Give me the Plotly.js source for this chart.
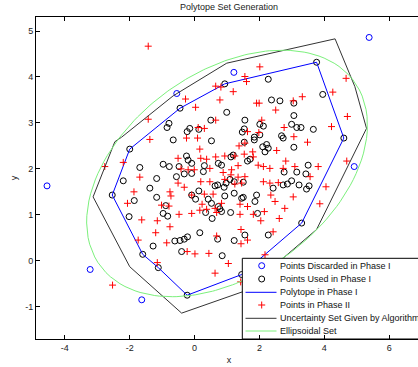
<!DOCTYPE html>
<html><head><meta charset="utf-8">
<script src="https://cdn.plot.ly/plotly-3.0.1.min.js"></script>
<style>html,body{margin:0;padding:0;overflow:hidden;background:#fff;}#chart{width:430px;height:367px;}</style>
</head><body><div id="chart"></div>
<script>
// ---- data ----
const discardedX = [5.38, -4.55, 1.21, -0.55, 4.92, -3.22, -1.63];
const discardedY = [4.86, 1.63, 4.10, 3.64, 2.05, -0.19, -0.85];

const usedX = [0.93,3.76,2.27,3.95,-2.00,-1.69,-2.20,-2.54,-1.86,-2.02,-1.60,-0.45,-0.79,-0.85,0.50,0.99,-0.15,-0.23,0.13,-0.66,0.52,-0.25,-0.20,-0.97,-0.78,-0.48,-0.09,0.30,0.73,0.83,
2.37,2.63,3.06,3.06,1.55,2.01,2.12,2.99,3.15,3.28,1.53,1.47,2.01,1.84,1.84,2.68,2.73,1.53,2.10,2.22,2.27,2.17,3.06,1.19,1.12,1.71,1.63,3.15,3.43,2.76,
-1.38,-1.17,-1.17,-0.56,-0.32,-0.09,0.27,0.63,0.71,0.91,0.13,-0.09,0.93,0.03,0.42,0.52,-0.89,-0.97,-0.83,0.34,0.73,0.78,0.83,0.54,0.16,0.71,-0.61,-0.45,-0.32,-0.22,-1.28,
1.09,1.50,0.97,1.22,2.42,2.73,2.86,2.99,3.22,3.45,1.91,1.86,1.22,1.50,1.45,1.11,1.94,3.30,2.27,1.55,1.22,
3.66,4.60,3.50,3.53,-0.40,-1.12,0.85,-0.23,1.45];
const usedY = [3.85,4.32,3.95,3.62,2.43,2.03,1.74,1.43,1.31,0.96,0.14,3.32,2.99,2.90,3.06,3.23,2.88,2.81,2.86,2.63,2.61,2.28,2.19,2.10,2.05,2.05,2.12,2.07,2.12,2.08,
3.50,3.48,3.43,3.16,3.06,2.97,2.93,2.97,2.90,2.90,2.87,2.80,2.74,2.69,2.63,2.72,2.67,2.58,2.48,2.53,2.45,2.37,2.47,2.30,2.26,2.21,2.17,1.93,1.89,1.93,
1.58,1.79,1.38,1.83,1.89,1.90,1.94,1.63,1.65,1.60,1.52,1.43,1.41,1.34,1.34,1.25,1.20,1.03,0.97,1.05,1.18,1.13,1.07,0.92,0.61,0.47,0.43,0.44,0.47,0.52,0.32,
1.77,1.71,1.69,1.72,1.58,1.65,1.67,1.74,1.65,1.56,1.43,1.29,1.47,1.38,1.36,1.05,1.03,0.82,0.56,0.56,0.44,
2.86,2.67,2.08,1.63,0.20,-0.15,0.11,-0.75,-0.30];

const polytopeX = [-2.00,-0.45,0.93,3.76,4.60,3.30,1.45,-0.23,-1.12,-1.60,-2.54,-2.00];
const polytopeY = [2.43,3.32,3.85,4.32,2.67,0.82,-0.30,-0.75,-0.15,0.14,1.43,2.43];

const phase2X = [-1.43,0.65,0.81,2.01,1.55,1.60,1.19,4.67,4.26,
-2.20,-2.77,-1.69,-1.87,-2.07,-1.63,-1.74,-2.53,
-0.28,0.03,0.78,-1.43,-1.38,0.65,0.11,0.30,-0.25,0.09,0.16,-0.51,0.19,0.37,0.65,0.93,-0.42,-0.20,-0.01,0.47,
1.91,1.99,2.50,3.04,3.32,2.07,2.76,1.63,1.98,3.06,1.55,1.37,3.48,1.79,2.53,1.53,1.81,2.81,1.34,1.96,2.12,2.32,2.73,3.09,1.14,1.24,
-0.51,-0.32,0.88,0.19,0.47,0.93,-0.09,0.30,0.57,-0.76,-0.73,0.23,-1.02,-0.79,-0.48,-0.09,0.16,0.37,0.63,0.68,0.83,-1.15,-0.76,-1.20,0.68,-0.86,
1.12,1.34,1.55,1.24,1.45,2.12,2.32,2.58,2.35,3.04,2.48,1.40,1.63,2.78,1.40,2.15,1.81,2.04,2.61,1.43,2.42,1.63,1.43,
4.22,4.71,4.69,3.81,3.56,4.05,3.86,
-1.15,-0.23,0.01,0.44,1.04,0.63,1.42,2.17];
const phase2Y = [4.67,3.80,3.78,4.22,4.01,3.90,3.68,3.97,3.67,
2.14,2.05,1.82,1.50,1.25,0.89,0.45,-0.53,
3.52,3.34,3.50,3.08,2.64,3.06,2.90,2.88,2.67,2.67,2.43,2.23,2.23,2.21,2.26,2.28,2.00,1.98,1.98,2.01,
3.43,3.43,3.28,3.48,3.57,3.06,2.90,2.81,2.79,2.70,2.56,2.50,2.58,2.37,2.40,2.32,2.26,2.17,2.07,2.08,2.05,2.01,2.01,2.05,1.98,2.28,
1.69,1.60,1.92,1.72,1.72,1.77,1.43,1.45,1.45,1.50,1.41,1.23,1.21,1.19,1.01,1.03,1.10,1.12,1.14,1.05,1.25,0.87,0.74,0.61,0.54,0.39,
1.87,1.82,1.83,1.67,1.69,1.72,1.69,1.70,1.43,1.39,1.29,1.23,1.18,1.14,1.01,1.07,1.01,0.87,0.92,0.68,0.63,0.45,0.37,
2.92,3.14,2.17,2.05,1.83,1.61,1.24,
-0.04,0.20,0.15,0.16,-0.06,-0.27,-0.46,0.13];

const uncertaintyX = [-3.13,-2.46,-2.25,-0.66,0.99,4.33,4.94,5.30,3.76,1.54,-0.40,-2.00,-3.13];
const uncertaintyY = [1.39,2.59,2.69,3.59,4.30,4.83,3.79,2.88,0.68,-0.66,-1.14,-0.13,1.39];

// ellipsoidal set: (p - c)' E (p - c) = 1
const ellipseCenter = [1.0, 1.9];
const ellipseShape = [[0.0631, -0.0400], [-0.0400, 0.1643]];

const xTickVals = [-4, -2, 0, 2, 4, 6];
const xTickText = ['-4', '-2', '0', '2', '4', '6'];
const yTickVals = [-1, 0, 1, 2, 3, 4, 5];
const yTickText = ['-1', '0', '1', '2', '3', '4', '5'];

const legendLabels = ['Points Discarded in Phase I', 'Points Used in Phase I', 'Polytope in Phase I',
  'Points in Phase II', 'Uncertainty Set Given by Algorithm', 'Ellipsoidal Set'];

// ---- build ellipse boundary from its centre and shape matrix ----
const ellipseX = [], ellipseY = [];
for (let k = 0; k <= 180; k++) {
  const t = k * 2 * Math.PI / 180, c = Math.cos(t), s = Math.sin(t);
  const q = ellipseShape[0][0]*c*c + 2*ellipseShape[0][1]*c*s + ellipseShape[1][1]*s*s;
  const r = 1 / Math.sqrt(q);
  ellipseX.push(ellipseCenter[0] + r*c);
  ellipseY.push(ellipseCenter[1] + r*s);
}

const BLUE = '#0000ff', BLACK = '#000000', RED = '#ff0000', GREEN = '#7cf07c', LINEBLACK = '#333333';
const FONT = '"Liberation Sans", Arial, Helvetica, sans-serif';
const PLUS = {symbol: 'cross-thin-open', size: 5, color: RED, line: {width: 1, color: RED}};

const traces = [
  {x: discardedX, y: discardedY, mode: 'markers', type: 'scatter',
   marker: {symbol: 'circle-open', size: 6, color: BLUE, line: {width: 1, color: BLUE}}},
  {x: usedX, y: usedY, mode: 'markers', type: 'scatter',
   marker: {symbol: 'circle-open', size: 6, color: BLACK, line: {width: 1, color: BLACK}}},
  {x: polytopeX, y: polytopeY, mode: 'lines', type: 'scatter', line: {color: BLUE, width: 1}},
  {x: phase2X, y: phase2Y, mode: 'markers', type: 'scatter', marker: PLUS},
  {x: uncertaintyX, y: uncertaintyY, mode: 'lines', type: 'scatter', line: {color: LINEBLACK, width: 1}},
  {x: ellipseX, y: ellipseY, mode: 'lines', type: 'scatter', line: {color: GREEN, width: 1}}
];

// ---- legend drawn on a pixel-scaled overlay subplot ----
const legL = 242.3, legT = 258.3, legB = 339, rowY = [265.7, 279, 292.3, 305, 318.3, 331];
const symX = 261.7, lineX0 = 245.5, lineX1 = 276.5, textX = 278.3;
const legendTraces = [
  {x: [legL, 440, 440, legL, legL], y: [legT, legT, legB, legB, legT], mode: 'lines', fill: 'toself',
   fillcolor: '#ffffff', line: {color: BLACK, width: 1}},
  {x: [symX], y: [rowY[0]], mode: 'markers', marker: {symbol: 'circle-open', size: 6, color: BLUE, line: {width: 1, color: BLUE}}},
  {x: [symX], y: [rowY[1]], mode: 'markers', marker: {symbol: 'circle-open', size: 6, color: BLACK, line: {width: 1, color: BLACK}}},
  {x: [lineX0, lineX1], y: [rowY[2], rowY[2]], mode: 'lines', line: {color: BLUE, width: 1}},
  {x: [symX], y: [rowY[3]], mode: 'markers', marker: PLUS},
  {x: [lineX0, lineX1], y: [rowY[4], rowY[4]], mode: 'lines', line: {color: LINEBLACK, width: 1}},
  {x: [lineX0, lineX1], y: [rowY[5], rowY[5]], mode: 'lines', line: {color: GREEN, width: 1}}
].map(t => Object.assign(t, {type: 'scatter', xaxis: 'x2', yaxis: 'y2', hoverinfo: 'skip'}));

const annotations = legendLabels.map((lab, i) => ({
  text: lab, x: textX, y: rowY[i], xref: 'x2', yref: 'y2', xanchor: 'left', yanchor: 'middle',
  showarrow: false, font: {family: FONT, size: 9, color: '#111'}
}));

const axisCommon = {
  ticks: 'inside', ticklen: 4, tickwidth: 1, tickcolor: BLACK,
  showline: true, linecolor: BLACK, linewidth: 1, mirror: 'ticks',
  showgrid: false, zeroline: false, automargin: false,
  tickfont: {family: FONT, size: 9, color: '#222'}
};

const layout = {
  width: 430, height: 367,
  margin: {l: 36, r: 8, t: 17, b: 28, pad: 0},
  paper_bgcolor: '#ffffff', plot_bgcolor: '#ffffff',
  font: {family: FONT, size: 9, color: '#222'},
  showlegend: false,
  title: {text: 'Polytope Set Generation', font: {family: FONT, size: 9, color: '#222'},
          x: 0.5, xref: 'paper', xanchor: 'center', y: 1 - 6.7/367, yref: 'container', yanchor: 'middle'},
  xaxis: Object.assign({}, axisCommon, {range: [-4.89, 7.01], tickmode: 'array', tickvals: xTickVals, ticktext: xTickText,
          title: {text: 'x', font: {family: FONT, size: 9, color: '#222'}, standoff: 4}}),
  yaxis: Object.assign({}, axisCommon, {range: [-1.703, 5.305], tickmode: 'array', tickvals: yTickVals, ticktext: yTickText,
          title: {text: 'y', font: {family: FONT, size: 9, color: '#222'}, standoff: 6}}),
  xaxis2: {overlaying: 'x', range: [36, 422], visible: false, fixedrange: true},
  yaxis2: {overlaying: 'y', range: [339, 17], visible: false, fixedrange: true},
  annotations: annotations
};

Plotly.newPlot('chart', traces.concat(legendTraces), layout, {displayModeBar: false, staticPlot: true});
</script></body></html>
